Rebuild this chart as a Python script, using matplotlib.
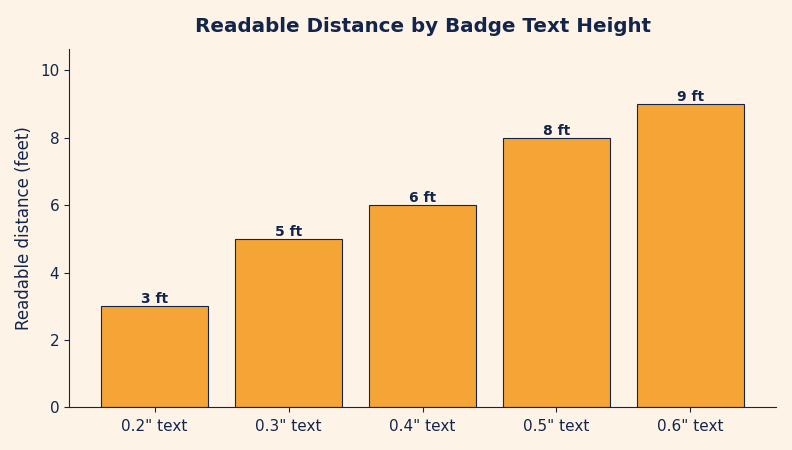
import matplotlib
matplotlib.use("Agg")
import matplotlib.pyplot as plt

categories = ['0.2" text', '0.3" text', '0.4" text', '0.5" text', '0.6" text']
distances = [3, 5, 6, 8, 9]
bar_labels = ["3 ft", "5 ft", "6 ft", "8 ft", "9 ft"]

bg = "#fdf4e7"
navy = "#13254a"
orange = "#f5a535"

fig, ax = plt.subplots(figsize=(7.92, 4.5), dpi=100)
fig.patch.set_facecolor(bg)
ax.set_facecolor(bg)

bars = ax.bar(categories, distances, width=0.8, color=orange, edgecolor=navy, linewidth=0.8)
for b, lab in zip(bars, bar_labels):
    ax.text(b.get_x() + b.get_width() / 2, b.get_height(), lab,
            ha="center", va="bottom", fontsize=10, fontweight="bold", color=navy)

ax.set_ylim(0, max(distances) * 1.183)
ax.set_title("Readable Distance by Badge Text Height", fontsize=14.3, fontweight="bold", color=navy, pad=12)
ax.set_ylabel("Readable distance (feet)", fontsize=12, color=navy, labelpad=5)
ax.tick_params(colors=navy, labelsize=11)
ax.tick_params(axis="x", pad=5)
for s in ["top", "right"]:
    ax.spines[s].set_visible(False)
for s in ["left", "bottom"]:
    ax.spines[s].set_color(navy)

plt.subplots_adjust(left=0.087, right=0.98, top=0.892, bottom=0.095)
plt.savefig("out.png", dpi=100, facecolor=bg)
